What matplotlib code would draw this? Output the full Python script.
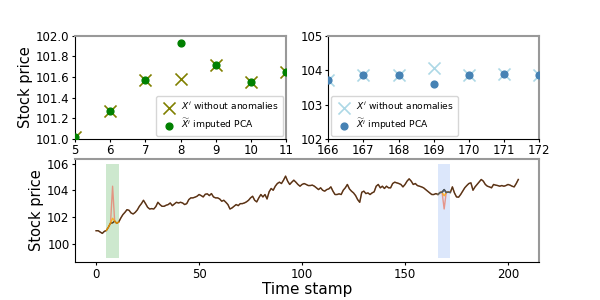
import numpy as np
import matplotlib
matplotlib.use('Agg')
import matplotlib.pyplot as plt

# stock price without anomalies, t = 0..205
price = [101.0, 101.0, 100.9, 100.8, 100.95, 101.02, 101.27, 101.57, 101.58, 101.72,
         101.55, 101.65, 101.95, 102.2, 102.37, 102.57, 102.52, 102.32, 102.25, 102.37,
         102.55, 102.82, 103.02, 103.27, 103.02, 102.75, 102.62, 102.65, 102.62, 102.8,
         103.12, 102.95, 102.82, 102.82, 102.9, 102.95, 103.07, 102.87, 103.0, 103.12,
         103.07, 103.12, 103.07, 102.95, 103.02, 103.32, 103.45, 103.45, 103.5, 103.57,
         103.7, 103.62, 103.52, 103.72, 103.75, 103.62, 103.77, 103.52, 103.45, 103.45,
         103.37, 103.2, 103.27, 103.12, 102.95, 102.62, 102.7, 102.82, 102.95, 102.87,
         103.02, 103.02, 103.07, 103.15, 103.27, 103.45, 103.57, 103.27, 103.15, 103.45,
         103.7, 103.52, 103.7, 103.37, 103.9, 104.15, 104.02, 104.32, 104.52, 104.62,
         104.52, 104.77, 105.07, 104.7, 104.45, 104.62, 104.77, 104.62, 104.45, 104.32,
         104.45, 104.52, 104.45, 104.37, 104.37, 104.4, 104.32, 104.2, 104.07, 104.2,
         104.02, 103.95, 104.07, 104.12, 104.27, 103.95, 103.7, 103.7, 103.75, 103.7,
         104.02, 104.2, 104.45, 104.12, 103.95, 103.82, 103.62, 103.32, 103.12, 103.87,
         103.95, 103.77, 103.82, 103.7, 103.82, 103.9, 104.32, 104.45, 104.2, 104.32,
         104.15, 104.32, 104.2, 104.2, 104.52, 104.62, 104.57, 104.52, 104.45, 104.27,
         104.45, 104.7, 104.87, 104.7, 104.45, 104.52, 104.37, 104.32, 104.27, 104.2,
         104.07, 103.95, 103.82, 103.7, 103.7, 103.77, 103.7, 103.85, 103.87, 104.07,
         103.85, 103.88, 103.85, 104.27, 103.82, 103.52, 103.5, 103.7, 103.95, 104.2,
         104.37, 104.52, 104.57, 104.02, 104.27, 104.45, 104.62, 104.82, 104.7, 104.45,
         104.32, 104.27, 104.2, 104.45, 104.4, 104.37, 104.32, 104.37, 104.32, 104.37,
         104.45, 104.4, 104.32, 104.27, 104.52, 104.82]

# anomalies injected in the series
anom_t = [8, 169]
anom_val = [104.32, 102.62]

# first window (t = 5..11)
win1_t = [5, 6, 7, 8, 9, 10, 11]
win1_imputed = [101.02, 101.27, 101.57, 101.93, 101.72, 101.55, 101.65]
# second window (t = 166..172)
win2_t = [166, 167, 168, 169, 170, 171, 172]
win2_imputed = [103.7, 103.85, 103.87, 103.6, 103.85, 103.88, 103.85]

t = np.arange(len(price))
price = np.array(price)
with_anom = price.copy()
with_anom[anom_t] = anom_val

fig = plt.figure(figsize=(6, 3), dpi=100)
ax1 = fig.add_axes([0.125, 0.537, 0.352, 0.344])
ax2 = fig.add_axes([0.547, 0.537, 0.352, 0.344])
ax3 = fig.add_axes([0.125, 0.126, 0.774, 0.344])

def style(ax):
    for s in ['top', 'right']:
        ax.spines[s].set_color('#999999')
        ax.spines[s].set_linewidth(1.5)
    ax.tick_params(labelsize=8.5, length=2.5, pad=1.5)

leg_kw = dict(fontsize=6.6, handletextpad=0.3, borderpad=0.45, labelspacing=0.45,
              borderaxespad=0.3)

# top left window
ax1.scatter(win1_t, price[win1_t], marker='x', s=75, color='olive', linewidths=1.2,
            label=r'$X^i$ without anomalies', zorder=2)
ax1.scatter(win1_t, win1_imputed, marker='o', s=24, color='green',
            label=r'$\widetilde{X}^i$ imputed PCA', zorder=3)
ax1.set_xlim(5, 11)
ax1.set_ylim(101.0, 102.0)
ax1.set_xticks(win1_t)
ax1.set_yticks(np.arange(101.0, 102.01, 0.2))
ax1.set_ylabel('Stock price', fontsize=10.5, labelpad=2)
ax1.legend(loc='lower right', **leg_kw)
style(ax1)

# top right window
ax2.scatter(win2_t, price[win2_t], marker='x', s=75, color='lightblue', linewidths=1.2,
            label=r'$X^i$ without anomalies', zorder=2)
ax2.scatter(win2_t, win2_imputed, marker='o', s=24, color='steelblue',
            label=r'$\widetilde{X}^i$ imputed PCA', zorder=3)
ax2.set_xlim(166, 172)
ax2.set_ylim(102, 105)
ax2.set_xticks(win2_t)
ax2.set_yticks([102, 103, 104, 105])
ax2.legend(loc='lower left', **leg_kw)
style(ax2)

# full series
ax3.fill_between([5, 11], 99, 106, color='#4caf50', alpha=0.28, linewidth=0)
ax3.fill_between([166, 172], 99, 106, color='cornflowerblue', alpha=0.22, linewidth=0)
ax3.plot(t, with_anom, color='#e8816f', lw=1.0, alpha=0.8)
ax3.plot(t, price, color='#523618', lw=1.0)
ax3.plot(win1_t, win1_imputed, color='orange', lw=1.0, alpha=0.8)
ax3.plot(win2_t, win2_imputed, color='orange', lw=1.0, alpha=0.8)
ax3.plot(win2_t, price[win2_t], color='#4a5a6a', lw=1.0)
ax3.set_xticks([0, 50, 100, 150, 200])
ax3.set_yticks([100, 102, 104, 106])
ax3.set_ylabel('Stock price', fontsize=10.5, labelpad=2)
ax3.set_xlabel('Time stamp', fontsize=11, labelpad=1)
style(ax3)

fig.savefig('out.png', dpi=100)
